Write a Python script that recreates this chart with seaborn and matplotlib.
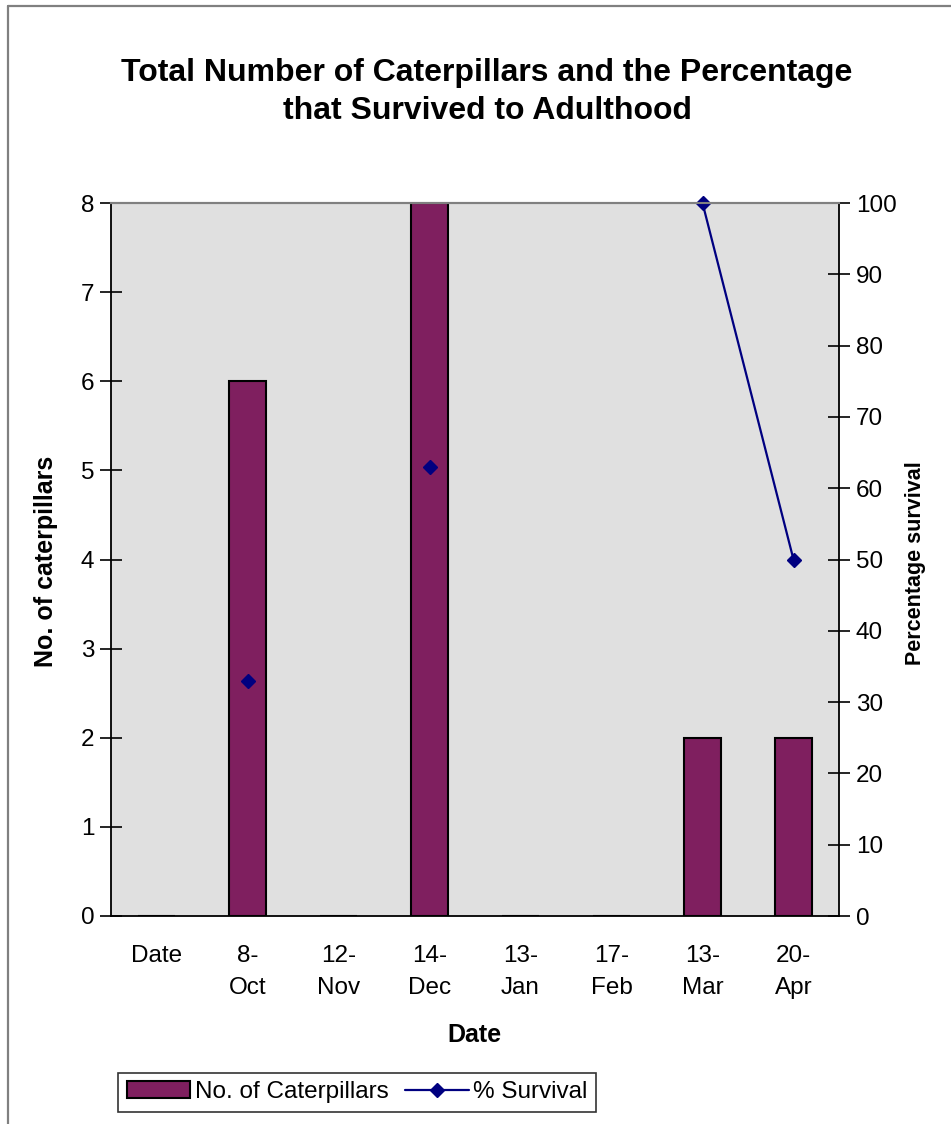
import numpy as np
import pandas as pd
import matplotlib
matplotlib.use("Agg")
import matplotlib.pyplot as plt
import seaborn as sns
from matplotlib.lines import Line2D
from matplotlib.patches import Patch

# Data
dates = ["Date", "8-\nOct", "12-\nNov", "14-\nDec", "13-\nJan", "17-\nFeb", "13-\nMar", "20-\nApr"]
caterpillars = [0, 6, 0, 8, 0, 0, 2, 2]
survival = [np.nan, 33, np.nan, 63, np.nan, np.nan, 100, 50]

bar_color = "#7F1F5F"
line_color = "#000080"

sns.set_theme(style="white")
plt.rcParams["font.family"] = ["Liberation Sans", "DejaVu Sans"]
plt.rcParams.update({"text.color": "black", "axes.labelcolor": "black",
                     "xtick.color": "black", "ytick.color": "black"})

df = pd.DataFrame({"date": dates, "count": caterpillars})

W, H = 951, 1124
fig = plt.figure(figsize=(W / 100, H / 100), dpi=100)
fig.patch.set_facecolor("white")

# plot area in pixels: left 111, right 839, top 203, bottom 916
ax = fig.add_axes([111 / W, (H - 916) / H, (839 - 111) / W, (916 - 203) / H])
ax.set_facecolor("#E0E0E0")

sns.barplot(data=df, x="date", y="count", order=dates, color=bar_color,
            width=0.4, edgecolor="black", linewidth=1.5, saturation=1, ax=ax)

ax.set_xlim(-0.5, len(dates) - 0.5)
ax.set_ylim(0, 8)
ax.set_yticks(range(0, 9))
ax.set_xlabel("")
ax.set_ylabel("")

# category labels at centres, tick marks between categories
ax.set_xticks(range(len(dates)))
ax.set_xticklabels(dates, fontsize=17.5, linespacing=1.6)
ax.set_xticks(np.arange(-0.5, len(dates)), minor=True)
ax.tick_params(axis="x", which="major", length=0, pad=21)
ax.tick_params(axis="x", which="minor", direction="inout", length=18, width=1.2, color="black")
ax.tick_params(axis="y", direction="inout", length=16, width=1.2, color="black",
               labelsize=17.5, pad=4, left=True)

for side in ["left", "bottom"]:
    ax.spines[side].set_color("black")
    ax.spines[side].set_linewidth(1.3)
ax.spines["top"].set_color("#808080")
ax.spines["top"].set_linewidth(1.5)
ax.spines["right"].set_visible(False)

ax2 = ax.twinx()
ax2.plot(range(len(dates)), survival, color=line_color, linewidth=1.6,
         marker="D", markersize=7, markerfacecolor=line_color, markeredgecolor=line_color,
         clip_on=False)
ax2.set_ylim(0, 100)
ax2.set_yticks(range(0, 101, 10))
ax2.tick_params(axis="y", direction="inout", length=16, width=1.2, color="black",
                labelsize=17.5, pad=4, right=True)
ax2.spines["right"].set_color("black")
ax2.spines["right"].set_linewidth(1.3)
ax2.spines["top"].set_color("#808080")
ax2.spines["top"].set_linewidth(1.5)
ax2.spines["left"].set_visible(False)
ax2.spines["bottom"].set_visible(False)
ax2.grid(False)
ax.grid(False)

# titles and axis labels
fig.text(487 / W, 1 - 92 / H, "Total Number of Caterpillars and the Percentage\nthat Survived to Adulthood",
         ha="center", va="center", fontsize=23, fontweight="bold", linespacing=1.38)
fig.text(46 / W, 1 - 561 / H, "No. of caterpillars", rotation=90, ha="center", va="center",
         fontsize=18, fontweight="bold")
fig.text(915 / W, 1 - 563 / H, "Percentage survival", rotation=90, ha="center", va="center",
         fontsize=15.5, fontweight="bold")
fig.text(474 / W, 1 - 1035 / H, "Date", ha="center", va="center", fontsize=18, fontweight="bold")

# legend
handles = [Patch(facecolor=bar_color, edgecolor="black", linewidth=1.5),
           Line2D([], [], color=line_color, linewidth=1.6, marker="D", markersize=7)]
leg = fig.legend(handles, ["No. of Caterpillars", "% Survival"], ncol=2,
                 loc="lower left", bbox_to_anchor=(118 / W, 12 / H),
                 fontsize=17.5, frameon=True, fancybox=False, shadow=False,
                 handlelength=2.6, handletextpad=0.2, columnspacing=0.7,
                 borderpad=0.35, borderaxespad=0)
leg.get_frame().set_edgecolor("black")
leg.get_frame().set_linewidth(1.2)

# chart border (cropped on right and bottom)
fig.add_artist(Line2D([8 / W, 8 / W], [0, 1 - 6 / H], transform=fig.transFigure,
                      color="#808080", linewidth=1.6))
fig.add_artist(Line2D([8 / W, 1], [1 - 6 / H, 1 - 6 / H], transform=fig.transFigure,
                      color="#808080", linewidth=1.6))

fig.savefig("out.png", dpi=100)
